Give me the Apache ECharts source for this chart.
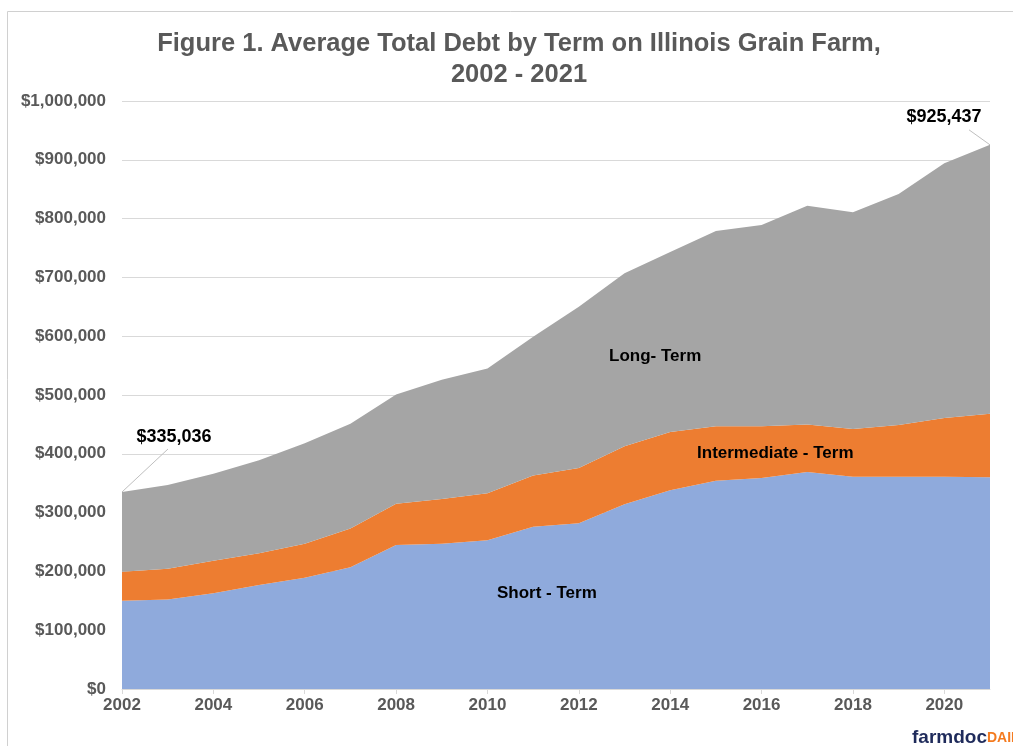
<!DOCTYPE html>
<html>
<head>
<meta charset="utf-8">
<script src="https://cdn.jsdelivr.net/npm/echarts@6/dist/echarts.min.js"></script>
<style>
html,body{margin:0;padding:0;background:#fff;}
#main{width:1013px;height:746px;}
</style>
</head>
<body>
<div id="main"></div>
<script>
const years = ['2002','2003','2004','2005','2006','2007','2008','2009','2010','2011','2012','2013','2014','2015','2016','2017','2018','2019','2020','2021'];
const shortTerm = [150000,152000,163000,177000,189000,207000,245000,247000,253000,276000,282000,314000,338000,354000,359000,369000,361000,361000,361000,360000];
const intermediateTerm = [49500,52600,55000,54000,58000,66000,70000,76000,80000,87000,94000,99000,99000,93000,88000,81000,81000,88000,100000,108000];
const longTerm = [135536,142400,148000,158000,171000,178000,186000,203000,212000,236000,274000,294000,306000,332000,342000,372000,369000,393000,433000,457437];
const yTicks = {min:0, max:1000000, interval:100000};
const titleLines = ['Figure 1. Average Total Debt by Term on Illinois Grain Farm,', '2002 - 2021'];
// area label anchors: fractional category index, value
const areaLabels = [
  {text:'Long- Term', idx:11.67, y:565000},
  {text:'Intermediate - Term', idx:14.3, y:401000},
  {text:'Short - Term', idx:9.3, y:163000}
];

const fmtMoney = v => '$' + Math.round(v).toLocaleString('en-US');

const chart = echarts.init(document.getElementById('main'), null, {renderer:'canvas'});
const baseFont = 'Liberation Sans, Arial, sans-serif';

function areaSeries(name, data, color){
  return {
    name, type:'line', stack:'total', data:data,
    symbol:'none', smooth:false,
    lineStyle:{width:0, color:color},
    areaStyle:{color:color, opacity:1},
    itemStyle:{color:color},
    silent:true, animation:false
  };
}

chart.setOption({
  animation:false,
  backgroundColor:'#fff',
  grid:{left:122, right:23, top:101, bottom:57},
  xAxis:{
    type:'category', data:years, boundaryGap:false,
    axisLine:{show:true, lineStyle:{color:'#d9d9d9', width:1}},
    axisTick:{show:true, length:5, interval:1, lineStyle:{color:'#d9d9d9'}},
    splitLine:{show:false},
    axisLabel:{interval:1, fontFamily:baseFont, fontSize:17, fontWeight:'bold', color:'#595959', margin:8}
  },
  yAxis:{
    type:'value', min:yTicks.min, max:yTicks.max, interval:yTicks.interval,
    axisLine:{show:false}, axisTick:{show:false},
    splitLine:{show:true, lineStyle:{color:'#d9d9d9', width:1}},
    axisLabel:{fontFamily:baseFont, fontSize:17, fontWeight:'bold', color:'#595959', margin:16, formatter:fmtMoney}
  },
  series:[
    areaSeries('Short - Term', shortTerm, '#8FAADC'),
    areaSeries('Intermediate - Term', intermediateTerm, '#ED7D31'),
    areaSeries('Long- Term', longTerm, '#A5A5A5')
  ]
});

const n = years.length;
function px(idx, y){
  const a = chart.convertToPixel({gridIndex:0}, [0, y]);
  const b = chart.convertToPixel({gridIndex:0}, [n-1, y]);
  return [a[0] + (b[0]-a[0]) * idx/(n-1), a[1]];
}
const total0 = shortTerm[0]+intermediateTerm[0]+longTerm[0];
const totalN = shortTerm[n-1]+intermediateTerm[n-1]+longTerm[n-1];
const p0 = px(0, total0);
const pN = px(n-1, totalN);

const graphics = [
  {type:'rect', shape:{x:7.5, y:11.5, width:1100, height:900}, style:{fill:'none', stroke:'#d0d0d0', lineWidth:1}, z:100, silent:true},
  {type:'text', x:519, y:28, style:{text:titleLines.join('\n'), fontFamily:baseFont, fontSize:25.5, fontWeight:'bold', fill:'#595959', lineHeight:31, textAlign:'center', textVerticalAlign:'top'}, z:50},
  {type:'line', shape:{x1:p0[0], y1:p0[1], x2:p0[0]+46, y2:p0[1]-43}, style:{stroke:'#bfbfbf', lineWidth:1}, z:50},
  {type:'text', x:p0[0]+52, y:p0[1]-55, style:{text:fmtMoney(total0), fontFamily:baseFont, fontSize:18, fontWeight:'bold', fill:'#000', textAlign:'center', textVerticalAlign:'middle'}, z:50},
  {type:'line', shape:{x1:pN[0], y1:pN[1], x2:pN[0]-21, y2:pN[1]-15}, style:{stroke:'#bfbfbf', lineWidth:1}, z:50},
  {type:'text', x:pN[0]-46, y:pN[1]-28, style:{text:fmtMoney(totalN), fontFamily:baseFont, fontSize:18, fontWeight:'bold', fill:'#000', textAlign:'center', textVerticalAlign:'middle'}, z:50},
  {type:'text', x:912, y:738, style:{
    text:'{a|farmdoc}{b|DAILY}',
    rich:{
      a:{fontFamily:baseFont, fontSize:19, fontWeight:'bold', fill:'#1f2b5b', color:'#1f2b5b'},
      b:{fontFamily:baseFont, fontSize:14, fontWeight:'bold', fill:'#f47b20', color:'#f47b20'}
    },
    textVerticalAlign:'middle'
  }, z:50}
];
areaLabels.forEach(l=>{
  const p = px(l.idx, l.y);
  graphics.push({type:'text', x:p[0], y:p[1], style:{text:l.text, fontFamily:baseFont, fontSize:17, fontWeight:'bold', fill:'#000', textAlign:'center', textVerticalAlign:'middle'}, z:50});
});
chart.setOption({graphic:graphics});
</script>
</body>
</html>
